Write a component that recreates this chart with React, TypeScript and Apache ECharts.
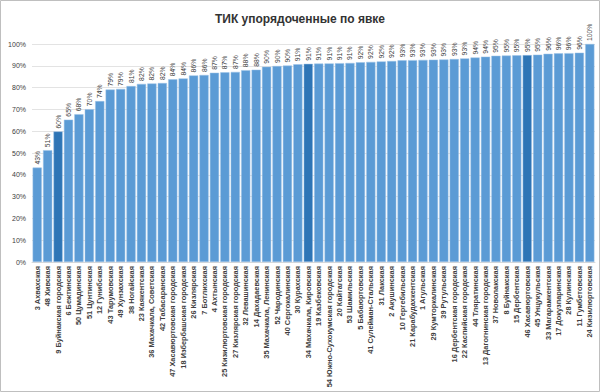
import React, { useEffect, useRef } from "react";
import * as echarts from "echarts";

const categories: string[] = [
  "3 Ахвахская", "48 Хивская", "9 Буйнакская городская", "6 Бежтинская", "50 Цумадинская",
  "51 Цунтинская", "12 Гунибская", "43 Тарумовская", "49 Хунзахская", "38 Ногайская",
  "23 Каякентская", "36 Махачкала, Советская", "42 Табасаранская", "47 Хасавюртовская городская",
  "18 Избербашская городская", "26 Кизлярская", "7 Ботлихская", "4 Ахтынская",
  "25 Кизилюртовская городская", "27 Кизлярская городская", "32 Левашинская", "14 Дахадаевская",
  "35 Махачкала, Ленинская", "52 Чародинская", "40 Сергокалинская", "30 Курахская",
  "34 Махачкала, Кировская", "19 Казбековская", "54 Южно-Сухокумская городская", "20 Кайтагская",
  "53 Шамильская", "5 Бабаюртовская", "41 Сулейман-Стальская", "31 Лакская", "2 Акушинская",
  "10 Гергебильская", "21 Карабудахкентская", "1 Агульская", "29 Кумторкалинская", "39 Рутульская",
  "16 Дербентская городская", "22 Каспийская городская", "44 Тляратинская",
  "13 Дагогнинская городская", "37 Новолакская", "8 Буйнакская", "15 Дербентская",
  "46 Хасавюртовская", "45 Унцукульская", "33 Магарамкентская", "17 Докузпаринская",
  "28 Кулинская", "11 Гумбетовская", "24 Кизилюртовская",
];

const turnout: number[] = [
  43.3, 51.3, 59.9, 65.3, 67.8, 70.1, 73.8, 79.1, 79.4, 80.7,
  81.7, 81.9, 82.1, 83.8, 84.2, 85.6, 85.8, 86.8, 87.0, 87.2,
  88.0, 88.2, 89.6, 89.9, 90.1, 90.7, 90.9, 91.0, 91.1, 91.2,
  91.3, 91.6, 91.8, 92.0, 92.2, 92.5, 92.6, 92.7, 92.8, 92.9,
  93.1, 93.4, 93.8, 94.2, 94.6, 94.7, 94.8, 94.9, 95.1, 95.5,
  95.7, 95.8, 96.0, 100.0,
];

const highlighted: string[] = [
  "9 Буйнакская городская", "34 Махачкала, Кировская", "46 Хасавюртовская",
];

const yTicks = { min: 0, max: 100, interval: 10 };

export default function App() {
  const ref = useRef<HTMLDivElement>(null);
  useEffect(() => {
    document.body.style.margin = "0";
    const chart = echarts.init(ref.current!, undefined, { renderer: "svg" });
    const font = "'Liberation Sans', Arial, sans-serif";
    chart.setOption({
      animation: false,
      backgroundColor: "#ffffff",
      title: {
        text: "ТИК упорядоченные по явке",
        left: "center",
        top: 8,
        textStyle: { fontSize: 12, fontWeight: "bold", color: "#333333", fontFamily: font },
      },
      graphic: [
        {
          type: "rect",
          shape: { x: 0.5, y: 0.5, width: 599, height: 391 },
          style: { fill: "none", stroke: "#bfbfbf", lineWidth: 1 },
          silent: true,
        },
      ],
      grid: { left: 32, right: 5, top: 44, bottom: 130, containLabel: false },
      xAxis: {
        type: "category",
        data: categories,
        axisTick: { show: false },
        axisLine: { lineStyle: { color: "#d9d9d9" } },
        axisLabel: {
          rotate: 90,
          interval: 0,
          fontSize: 7.4,
          fontWeight: "bold",
          color: "#404040",
          fontFamily: font,
          margin: 4,
        },
      },
      yAxis: {
        type: "value",
        min: yTicks.min,
        max: yTicks.max,
        interval: yTicks.interval,
        axisLabel: {
          formatter: "{value}%",
          fontSize: 7,
          color: "#404040",
          fontFamily: font,
          margin: 6,
        },
        splitLine: { lineStyle: { color: "#e3e3e3" } },
        axisLine: { show: false },
        axisTick: { show: false },
      },
      series: [
        {
          type: "bar",
          data: turnout.map((v, i) => ({
            value: v,
            itemStyle: {
              color: highlighted.includes(categories[i]) ? "#2e75b6" : "#5b9bd5",
            },
          })),
          barCategoryGap: "12%",
          itemStyle: { borderColor: "#9dc3e6", borderWidth: 0.5 },
          label: {
            show: true,
            position: "top",
            rotate: 90,
            align: "left",
            verticalAlign: "middle",
            distance: 3,
            fontSize: 6.8,
            color: "#404040",
            fontFamily: font,
            formatter: (p: any) => Math.round(p.value) + "%",
          },
        },
      ],
    });
    return () => chart.dispose();
  }, []);
  return <div ref={ref} style={{ width: 600, height: 392 }} />;
}
